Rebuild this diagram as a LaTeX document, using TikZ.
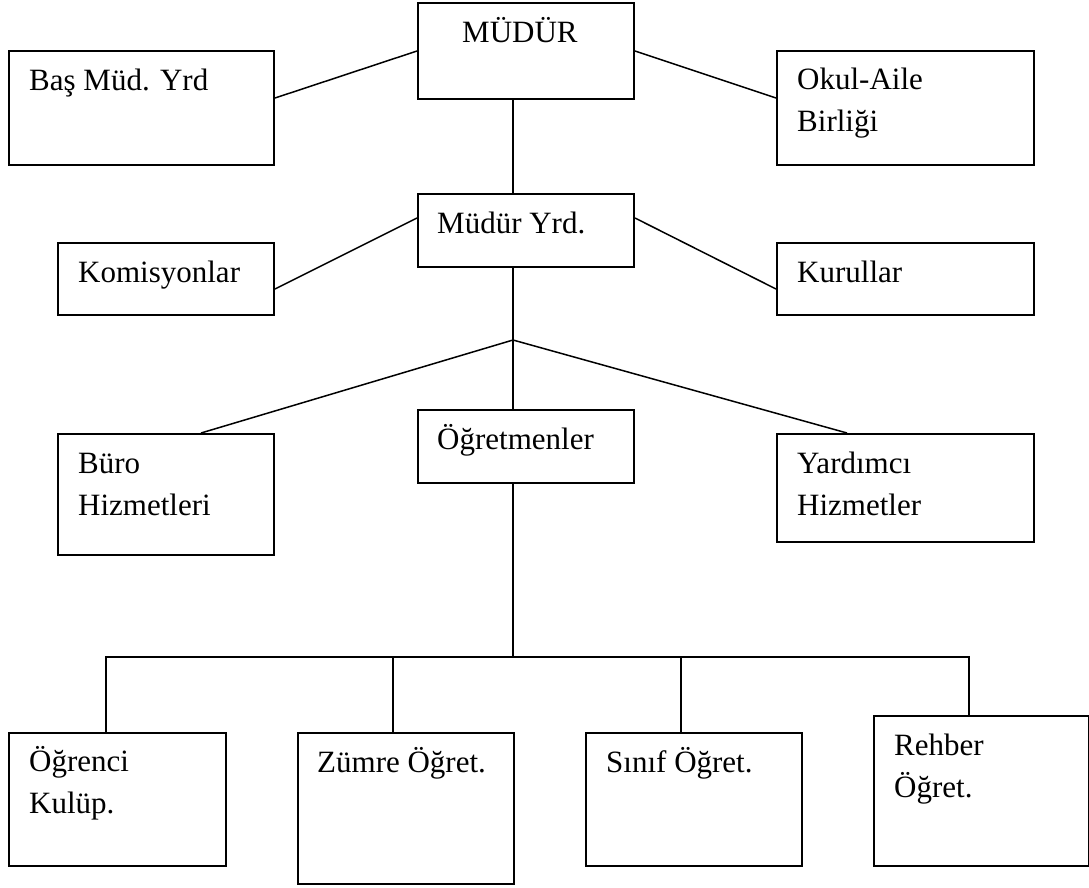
\documentclass[tikz,border=0pt]{standalone}
\usepackage{fontspec}
\setmainfont{Liberation Serif}
\usepackage{tikz}
\usetikzlibrary{calc}
\tikzstyle{line} = [draw, line width=1.5pt]
\tikzstyle{box} = [draw, line width=2pt, inner sep=0pt, anchor=north west]
\tikzstyle{txt} = [anchor=base west, align=left, inner sep=0pt, font=\fontsize{31}{42}\selectfont]

\begin{document}
\begin{tikzpicture}[x=1pt, y=-1pt]
 \useasboundingbox (0,0) rectangle (1089,887);
 % top level
 \node [box, minimum width=216pt, minimum height=96pt] (MD) at (417,2) {};
 \node [box, minimum width=265pt, minimum height=114pt] (BM) at (8,50) {};
 \node [box, minimum width=257pt, minimum height=114pt] (OA) at (776,50) {};
 \node [txt] (MDt) at ($(MD.north west)+(45,40)$) {MÜDÜR};
 \node [txt] (BMt) at ($(BM.north west)+(21,40)$) {Baş Müd. Yrd};
 \node [txt] (OAt) at ($(OA.north west)+(21,81)$) {Okul-Aile\\Birliği};
 % second level
 \node [box, minimum width=216pt, minimum height=73pt] (MY) at (417,193) {};
 \node [box, minimum width=216pt, minimum height=72pt] (KM) at (57,242) {};
 \node [box, minimum width=257pt, minimum height=72pt] (KR) at (776,242) {};
 \node [txt] (MYt) at ($(MY.north west)+(20,40)$) {Müdür Yrd.};
 \node [txt] (KMt) at ($(KM.north west)+(21,40)$) {Komisyonlar};
 \node [txt] (KRt) at ($(KR.north west)+(21,40)$) {Kurullar};
 % third level
 \node [box, minimum width=216pt, minimum height=73pt] (OG) at (417,409) {};
 \node [box, minimum width=216pt, minimum height=121pt] (BH) at (57,433) {};
 \node [box, minimum width=257pt, minimum height=108pt] (YH) at (776,433) {};
 \node [txt] (OGt) at ($(OG.north west)+(20,40)$) {Öğretmenler};
 \node [txt] (BHt) at ($(BH.north west)+(21,82)$) {Büro\\Hizmetleri};
 \node [txt] (YHt) at ($(YH.north west)+(21,82)$) {Yardımcı\\Hizmetler};
 % bottom level
 \node [box, minimum width=217pt, minimum height=133pt] (OK) at (8,732) {};
 \node [box, minimum width=216pt, minimum height=151pt] (ZO) at (297,732) {};
 \node [box, minimum width=216pt, minimum height=133pt] (SO) at (585,732) {};
 \node [box, minimum width=215pt, minimum height=150pt] (RO) at (873,715) {};
 \node [txt] (OKt) at ($(OK.north west)+(21,81)$) {Öğrenci\\Kulüp.};
 \node [txt] (ZOt) at ($(ZO.north west)+(20,40)$) {Zümre Öğret.};
 \node [txt] (SOt) at ($(SO.north west)+(21,40)$) {Sınıf Öğret.};
 \node [txt] (ROt) at ($(RO.north west)+(21,82)$) {Rehber\\Öğret.};
 % connectors
 \path [line] (MD.west) -- ($(BM.north east)+(0,48)$);
 \path [line] (MD.east) -- ($(OA.north west)+(0,48)$);
 \path [line] ($(MD.south west)+(96,0)$) -- ($(MY.north west)+(96,0)$);
 \path [line] ($(MY.north west)+(0,25)$) -- ($(KM.north east)+(0,47)$);
 \path [line] ($(MY.north east)+(0,25)$) -- ($(KR.north west)+(0,47)$);
 \coordinate (J) at ($(MY.south west)+(96,72)$);
 \path [line] ($(MY.south west)+(96,0)$) -- (J) -- ($(OG.north west)+(96,0)$);
 \path [line] (J) -- ($(BH.north west)+(144,0)$);
 \path [line] (J) -- ($(YH.north west)+(71,0)$);
 \coordinate (B) at ($(OG.south west)+(96,173)$);
 \path [line] ($(OG.south west)+(96,0)$) -- (B);
 \path [line] ($(OK.north west)+(98,0)$) |- (B) -| ($(RO.north west)+(96,0)$);
 \path [line] ($(ZO.north west)+(96,0)$) |- (B);
 \path [line] ($(SO.north west)+(96,0)$) |- (B);
\end{tikzpicture}
\end{document}
